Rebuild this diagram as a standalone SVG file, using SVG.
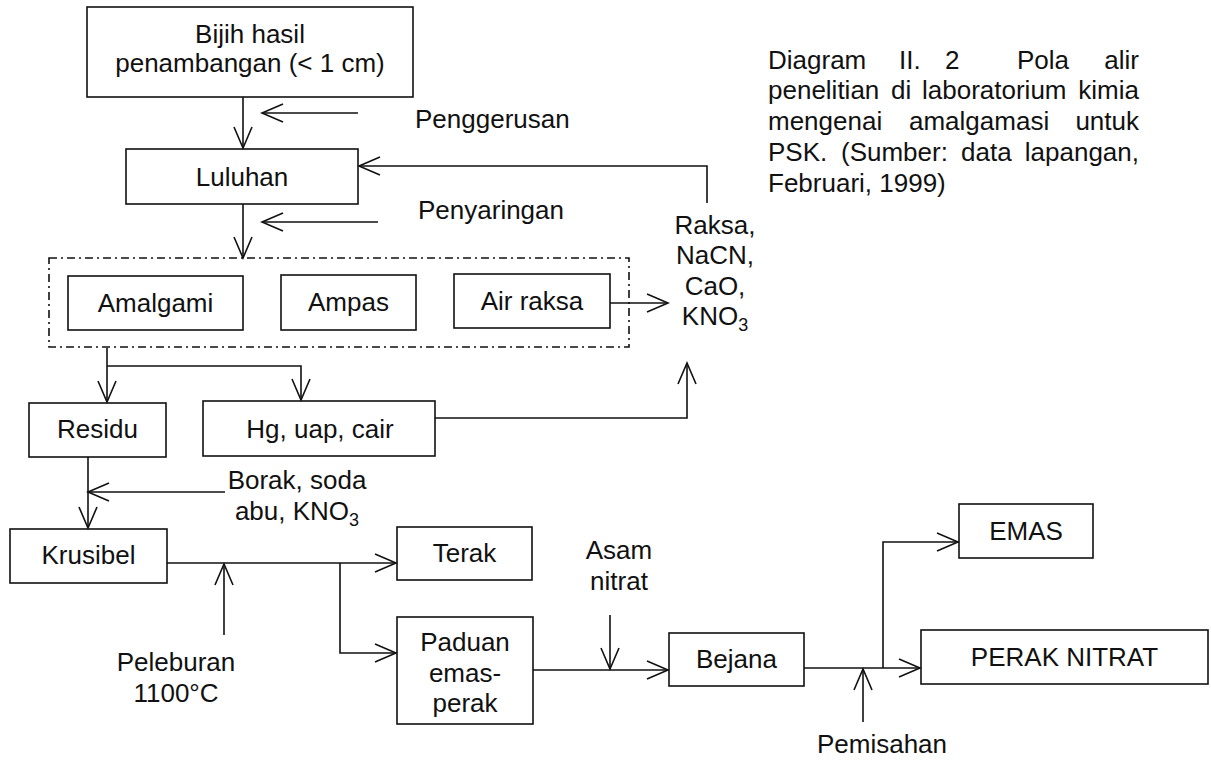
<svg xmlns="http://www.w3.org/2000/svg" width="1211" height="762" viewBox="0 0 1211 762">
<style>
text{font-family:"Liberation Sans",Arial,sans-serif;font-size:26px;fill:#111}
.c{text-anchor:middle}
.e{text-anchor:end}
.box{fill:none;stroke:#111;stroke-width:1.6}
.dash{fill:none;stroke:#111;stroke-width:1.6;stroke-dasharray:8 4 2 4}
.ln{fill:none;stroke:#111;stroke-width:1.6;marker-end:url(#a)}
</style>
<defs>
<marker id="a" markerWidth="24" markerHeight="20" viewBox="0 0 24 20" refX="22" refY="10" orient="auto" markerUnits="userSpaceOnUse">
<path d="M1,1 L22,10 L1,19" fill="none" stroke="#111" stroke-width="1.6"/>
</marker>
</defs>
<rect width="1211" height="762" fill="#fff"/>

<g id="connectors">
<path class="ln" d="M243,97 V148"/>
<path class="ln" d="M358,113 H262"/>
<path class="ln" d="M707,203 V166 H359"/>
<path class="ln" d="M243,204 V258"/>
<path class="ln" d="M378,222 H262"/>
<path class="ln" d="M610,303 H668"/>
<path class="ln" d="M107,348 V402"/>
<path class="ln" d="M107,366 H301 V400"/>
<path class="ln" d="M435,418 H687 V363"/>
<path class="ln" d="M88,457 V528"/>
<path class="ln" d="M225,492 H88"/>
<path class="ln" d="M167,563 H396"/>
<path class="ln" d="M224,635 V564"/>
<path class="ln" d="M340,563 V653 H396"/>
<path class="ln" d="M533,670 H668"/>
<path class="ln" d="M610,615 V669"/>
<path class="ln" d="M804,668 H920"/>
<path class="ln" d="M863,722 V669"/>
<path class="ln" d="M883,668 V542 H958"/>
</g>

<g id="bijih">
<rect class="box" x="87" y="7" width="326" height="90"/>
<text class="c" x="250" y="43">Bijih hasil</text>
<text class="c" x="250" y="72">penambangan (&lt; 1 cm)</text>
</g>
<g id="luluhan">
<rect class="box" x="126" y="149" width="232" height="55"/>
<text class="c" x="242" y="186">Luluhan</text>
</g>
<g id="penggerusan"><text x="415" y="128">Penggerusan</text></g>
<g id="penyaringan"><text x="418" y="219">Penyaringan</text></g>

<g id="hasil-penyaringan">
<rect class="dash" x="49" y="258" width="580" height="89"/>
</g>
<g id="amalgami">
<rect class="box" x="68" y="276" width="175" height="54"/>
<text class="c" x="155.5" y="312">Amalgami</text>
</g>
<g id="ampas">
<rect class="box" x="281" y="275" width="135" height="55"/>
<text class="c" x="348.5" y="311">Ampas</text>
</g>
<g id="air-raksa">
<rect class="box" x="454" y="274" width="156" height="54"/>
<text class="c" x="532" y="310">Air raksa</text>
</g>

<g id="raksa">
<text class="c" x="715" y="234">Raksa,</text>
<text class="c" x="715" y="264">NaCN,</text>
<text class="c" x="715" y="295">CaO,</text>
<text class="c" x="715" y="325">KNO<tspan font-size="18" dy="6">3</tspan></text>
</g>

<g id="residu">
<rect class="box" x="29" y="403" width="137" height="54"/>
<text class="c" x="97.5" y="438">Residu</text>
</g>
<g id="hg">
<rect class="box" x="203" y="401" width="232" height="55"/>
<text class="c" x="320" y="438">Hg, uap, cair</text>
</g>

<g id="borak">
<text class="c" x="297" y="489">Borak, soda</text>
<text class="c" x="297" y="520">abu, KNO<tspan font-size="18" dy="6">3</tspan></text>
</g>

<g id="krusibel">
<rect class="box" x="10" y="529" width="157" height="54"/>
<text class="c" x="88.5" y="564">Krusibel</text>
</g>
<g id="peleburan">
<text class="c" x="176" y="671">Peleburan</text>
<text class="c" x="176" y="702">1100°C</text>
</g>
<g id="terak">
<rect class="box" x="397" y="527" width="135" height="53"/>
<text class="c" x="464.5" y="562">Terak</text>
</g>
<g id="paduan">
<rect class="box" x="397" y="617" width="136" height="107"/>
<text class="c" x="465" y="651">Paduan</text>
<text class="c" x="465" y="682">emas-</text>
<text class="c" x="465" y="712">perak</text>
</g>
<g id="asam-nitrat">
<text class="c" x="619" y="559">Asam</text>
<text class="c" x="619" y="590">nitrat</text>
</g>
<g id="bejana">
<rect class="box" x="669" y="633" width="135" height="53"/>
<text class="c" x="736.5" y="668">Bejana</text>
</g>
<g id="pemisahan"><text class="c" x="882" y="753">Pemisahan</text></g>
<g id="emas">
<rect class="box" x="959" y="504" width="134" height="54"/>
<text class="c" x="1026" y="540">EMAS</text>
</g>
<g id="perak-nitrat">
<rect class="box" x="921" y="630" width="287" height="54"/>
<text class="c" x="1064.5" y="666">PERAK NITRAT</text>
</g>

<g id="caption">
<text x="768" y="69">Diagram</text>
<text x="899" y="69">II.</text>
<text x="945" y="69">2</text>
<text x="1017" y="69">Pola</text>
<text class="e" x="1139" y="69">alir</text>
<text x="768" y="99">penelitian</text>
<text x="891" y="99">di</text>
<text x="922" y="99">laboratorium</text>
<text class="e" x="1139" y="99">kimia</text>
<text x="768" y="130">mengenai</text>
<text x="909" y="130">amalgamasi</text>
<text class="e" x="1139" y="130">untuk</text>
<text x="768" y="161">PSK.</text>
<text x="841" y="161">(Sumber:</text>
<text x="961" y="161">data</text>
<text class="e" x="1139" y="161">lapangan,</text>
<text x="768" y="192">Februari, 1999)</text>
</g>
</svg>
